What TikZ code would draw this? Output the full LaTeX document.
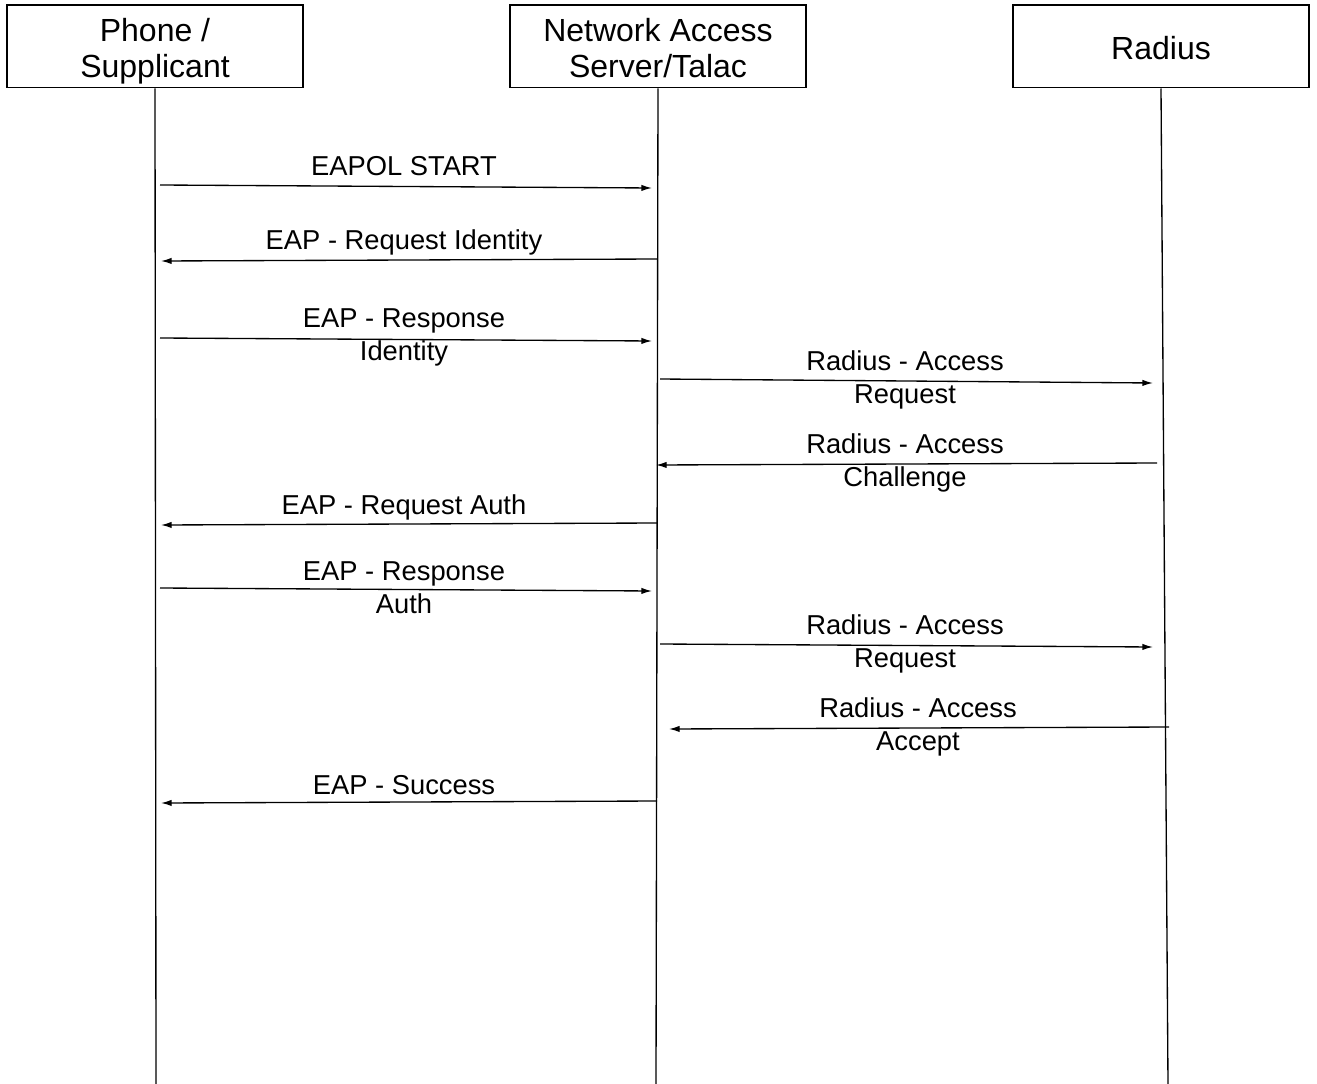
\documentclass[tikz,border=0pt]{standalone}
\usepackage{fontspec}
\setmainfont{Liberation Sans}
\usetikzlibrary{arrows.meta}
\begin{document}
\begin{tikzpicture}[x=0.75pt,y=-0.75pt,
  actor/.style={draw,line width=1pt,minimum width=222pt,minimum height=62pt,
    inner sep=0pt},
  actortext/.style={align=center,inner sep=0pt,font=\fontsize{24}{27}\selectfont},
  life/.style={line width=1pt},
  msg/.style={line width=1pt,-{Latex[length=8pt,width=4.8pt]}},
  lbl/.style={align=center,inner sep=0pt,font=\fontsize{20.5}{24.75}\selectfont}]
\useasboundingbox (0,0) rectangle (1317,1084);

% participants
\node[actor] (phone) at (155,46.5) {};
\node[actor] (nas) at (658,46.5) {};
\node[actor] (rad) at (1161,46.5) {};
\node[actortext] (phoneT) at ([yshift=-4.5pt]phone.center) {\strut Phone /\\\strut Supplicant};
\node[actortext] (nasT) at ([yshift=-4.5pt]nas.center) {\strut Network Access\\\strut Server/Talac};
\node[actortext] (radT) at ([yshift=-4.5pt]rad.center) {\strut Radius};

% lifelines
\coordinate (phoneEnd) at (156,1084);
\coordinate (nasEnd) at (656,1084);
\coordinate (radEnd) at (1168,1084);
\draw[life] (phone.south) -- (phoneEnd);
\draw[life] (nas.south) -- (nasEnd);
\draw[life] (rad.south) -- (radEnd);

% message end points
\coordinate (a1) at (160,185);  \coordinate (b1) at (652,188);
\coordinate (a2) at (657,259);  \coordinate (b2) at (161,261);
\coordinate (a3) at (160,338);  \coordinate (b3) at (652,341);
\coordinate (a4) at (660,379);  \coordinate (b4) at (1153,383);
\coordinate (a5) at (1157,463); \coordinate (b5) at (656,465);
\coordinate (a6) at (657,523);  \coordinate (b6) at (161,525);
\coordinate (a7) at (160,588);  \coordinate (b7) at (652,591);
\coordinate (a8) at (660,644);  \coordinate (b8) at (1153,647);
\coordinate (a9) at (1169,727); \coordinate (b9) at (669,729);
\coordinate (a10) at (657,801); \coordinate (b10) at (161,803);

% messages
\draw[msg] (a1) -- (b1);
\draw[msg] (a2) -- (b2);
\draw[msg] (a3) -- (b3);
\draw[msg] (a4) -- (b4);
\draw[msg] (a5) -- (b5);
\draw[msg] (a6) -- (b6);
\draw[msg] (a7) -- (b7);
\draw[msg] (a8) -- (b8);
\draw[msg] (a9) -- (b9);
\draw[msg] (a10) -- (b10);

% message labels
\node[lbl] (l1) at (404,166) {EAPOL START};
\node[lbl] (l2) at (404,242) {EAP - Request Identity};
\node[lbl] (l3) at (404,337.5) {EAP - Response\\Identity};
\node[lbl] (l4) at (905,379.5) {Radius - Access\\Request};
\node[lbl] (l5) at (905,462.5) {Radius - Access\\Challenge};
\node[lbl] (l6) at (404,507) {EAP - Request Auth};
\node[lbl] (l7) at (404,587.5) {EAP - Response\\Auth};
\node[lbl] (l8) at (905,643.5) {Radius - Access\\Request};
\node[lbl] (l9) at (918,726.5) {Radius - Access\\Accept};
\node[lbl] (l10) at (404,785) {EAP - Success};
\end{tikzpicture}
\end{document}
